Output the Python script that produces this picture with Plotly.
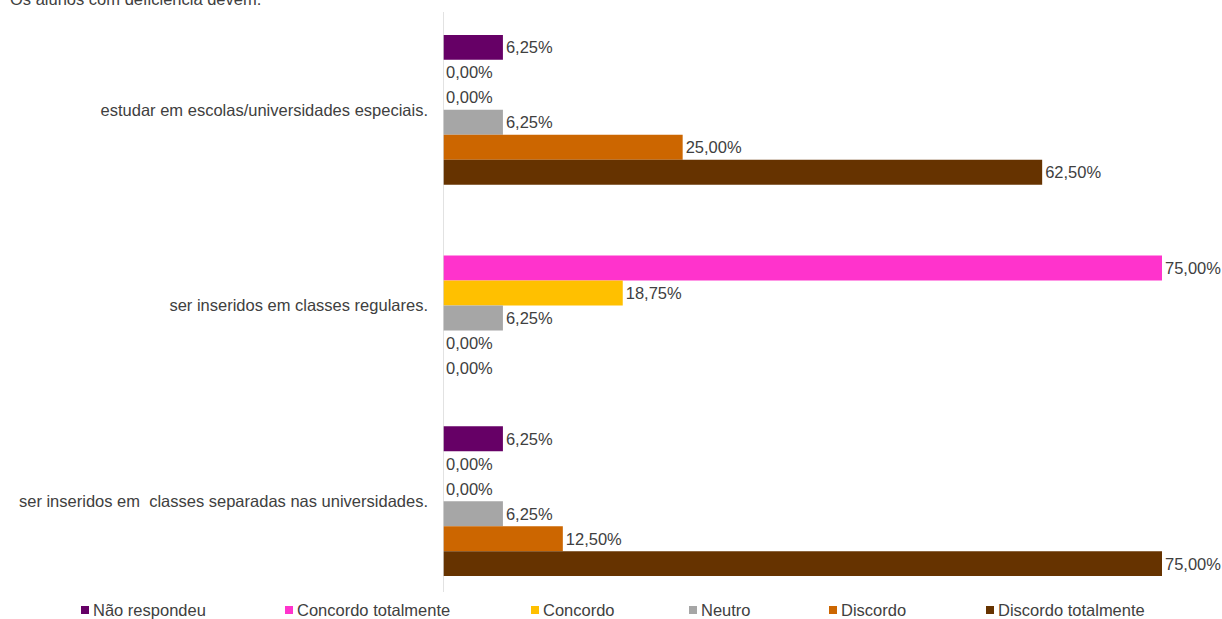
import plotly.graph_objects as go

# Survey statements (top to bottom) and answer shares in percent
categories = [
    "estudar em escolas/universidades especiais.",
    "ser inseridos em classes regulares.",
    "ser inseridos em  classes separadas nas universidades.",
]
series_names = [
    "Não respondeu",
    "Concordo totalmente",
    "Concordo",
    "Neutro",
    "Discordo",
    "Discordo totalmente",
]
nao_respondeu = [6.25, None, 6.25]
concordo_totalmente = [0.00, 75.00, 0.00]
concordo = [0.00, 18.75, 0.00]
neutro = [6.25, 6.25, 6.25]
discordo = [25.00, 0.00, 12.50]
discordo_totalmente = [62.50, 0.00, 75.00]
title_text = "Os alunos com deficiência devem:"

series_values = [nao_respondeu, concordo_totalmente, concordo, neutro,
                 discordo, discordo_totalmente]
colors = ["#660066", "#FF33CC", "#FFC000", "#A6A6A6", "#CC6600", "#663300"]

W, H = 1222, 619
L, R, T, B = 443, 60, 12, 20
plot_w = W - L - R
plot_h = H - T - B
FONT = "Liberation Sans, Arial, sans-serif"
FS = 16.5
TXT = "#404040"


def px_to_paper_x(px):
    return (px - L) / plot_w


def px_to_paper_y(py):
    return (H - B - py) / plot_h


def pct(v):
    return "" if v is None else f"{v:.2f}%".replace(".", ",")


fig = go.Figure()
for name, vals, col in zip(series_names, series_values, colors):
    fig.add_trace(go.Bar(
        y=categories,
        x=vals,
        name=name,
        orientation="h",
        marker=dict(color=col, line=dict(width=0)),
        text=[pct(v) for v in vals],
        textposition="outside",
        textfont=dict(family=FONT, size=FS, color=TXT),
        constraintext="none",
        cliponaxis=False,
        showlegend=False,
        hoverinfo="skip",
    ))

# Category axis line at zero
fig.add_shape(type="line", xref="x", yref="paper",
              x0=0, x1=0, y0=px_to_paper_y(592), y1=1,
              line=dict(color="#D9D9D9", width=1.5))

annotations = [dict(
    text=title_text, xref="paper", yref="paper",
    x=px_to_paper_x(8), y=1, xanchor="left", yanchor="bottom", yshift=2,
    showarrow=False, font=dict(family=FONT, size=FS, color=TXT),
)]

# Legend row below the plot
legend_marker_px = [85, 289, 535, 693, 833, 990]
legend_y = 610
for name, col, mx in zip(series_names, colors, legend_marker_px):
    fig.add_shape(type="rect", xref="paper", yref="paper",
                  x0=px_to_paper_x(mx - 4), x1=px_to_paper_x(mx + 4),
                  y0=px_to_paper_y(legend_y + 4), y1=px_to_paper_y(legend_y - 4),
                  fillcolor=col, line=dict(width=0))
    annotations.append(dict(
        text=name, xref="paper", yref="paper",
        x=px_to_paper_x(mx + 6), y=px_to_paper_y(legend_y),
        xanchor="left", yanchor="middle", showarrow=False,
        font=dict(family=FONT, size=FS, color=TXT),
    ))

fig.update_layout(
    width=W, height=H,
    margin=dict(l=L, r=R, t=T, b=B, autoexpand=False),
    barmode="group", bargap=0.234, bargroupgap=0,
    plot_bgcolor="white", paper_bgcolor="white",
    annotations=annotations,
    xaxis=dict(range=[0, 75], visible=False, fixedrange=True),
    yaxis=dict(type="category", autorange="reversed", showline=False,
               showgrid=False, zeroline=False, ticks="",
               ticklabelstandoff=14,
               tickfont=dict(family=FONT, size=FS, color=TXT)),
    showlegend=False,
)

fig.write_html("out.html")
